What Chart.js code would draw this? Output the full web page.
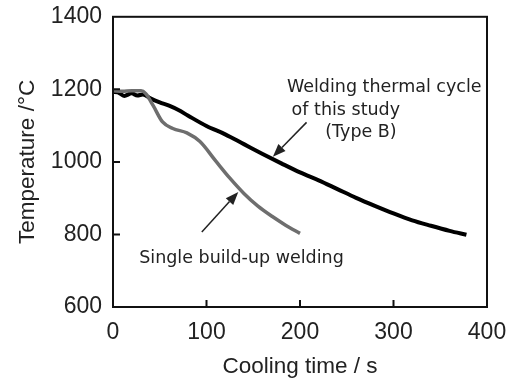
<!DOCTYPE html>
<html>
<head>
<meta charset="utf-8">
<script src="https://cdn.jsdelivr.net/npm/chart.js@4.4.0/dist/chart.umd.min.js"></script>
<style>
  html, body { margin: 0; padding: 0; background: #fff; }
  #wrap { width: 521px; height: 380px; }
</style>
</head>
<body>
<div id="wrap"><canvas id="chart" width="521" height="380"></canvas></div>
<script>
// Values (time in s, temperature in °C)
const typeBTime = [0, 5, 12, 20, 26, 32, 40, 50, 60, 70, 80, 100, 120, 140, 160, 180, 200, 220, 240, 260, 280, 300, 320, 340, 360, 378];
const typeBTemp = [1193, 1192, 1182, 1189, 1183, 1186, 1175, 1164, 1155, 1143, 1128, 1099, 1076, 1049, 1022, 996, 971, 949, 925, 901, 879, 858, 839, 824, 810, 799];

const singleTime = [0, 10, 20, 30, 35, 43, 53, 64, 79, 93, 110, 125, 140, 155, 170, 185, 200];
const singleTemp = [1196, 1195, 1196, 1196, 1188, 1155, 1110, 1092, 1080, 1056, 1002, 955, 913, 878, 850, 825, 803];

const xTicks = [0, 100, 200, 300, 400];
const yTicks = [600, 800, 1000, 1200, 1400];

// annotation texts (left edge x, middle y, in data units)
const labelTexts = ['Welding thermal cycle', 'of this study', '(Type B)', 'Single build-up welding'];
const labelX = [186, 191, 227, 28];
const labelY = [1205, 1142, 1081, 735];

// arrows: from (x0,y0) to tip (x1,y1), data units
const arrowFrom = [[207, 1109], [95, 807]];
const arrowTo = [[171, 1014], [134, 917]];

const FONT = '"Liberation Sans", Arial, sans-serif';
const NOTE_FONT = '"DejaVu Sans", Verdana, sans-serif';

const toPoints = (xs, ys) => xs.map((x, i) => ({ x, y: ys[i] }));

const frameAndTicks = {
    id: 'frameAndTicks',
    afterDatasetsDraw(chart) {
        const { ctx, chartArea: a, scales } = chart;
        ctx.save();
        ctx.strokeStyle = '#111';
        ctx.lineWidth = 2;
        ctx.strokeRect(a.left, a.top, a.right - a.left, a.bottom - a.top);
        // inward ticks
        ctx.beginPath();
        xTicks.slice(1, -1).forEach(v => {
            const px = scales.x.getPixelForValue(v);
            ctx.moveTo(px, a.bottom);
            ctx.lineTo(px, a.bottom - 7);
        });
        yTicks.slice(1, -1).forEach(v => {
            const py = scales.y.getPixelForValue(v);
            ctx.moveTo(a.left, py);
            ctx.lineTo(a.left + 7, py);
        });
        ctx.stroke();

        // annotation text
        ctx.fillStyle = '#222';
        ctx.font = '17.5px ' + NOTE_FONT;
        ctx.textBaseline = 'middle';
        ctx.textAlign = 'left';
        labelTexts.forEach((t, i) => {
            ctx.fillText(t, scales.x.getPixelForValue(labelX[i]), scales.y.getPixelForValue(labelY[i]));
        });

        // arrows
        ctx.strokeStyle = '#222';
        ctx.fillStyle = '#222';
        ctx.lineWidth = 1.5;
        arrowFrom.forEach((f, i) => {
            const x0 = scales.x.getPixelForValue(f[0]), y0 = scales.y.getPixelForValue(f[1]);
            const x1 = scales.x.getPixelForValue(arrowTo[i][0]), y1 = scales.y.getPixelForValue(arrowTo[i][1]);
            const ang = Math.atan2(y1 - y0, x1 - x0);
            const len = 13, wid = 5;
            const bx = x1 - len * Math.cos(ang), by = y1 - len * Math.sin(ang);
            ctx.beginPath();
            ctx.moveTo(x0, y0);
            ctx.lineTo(bx, by);
            ctx.stroke();
            ctx.beginPath();
            ctx.moveTo(x1, y1);
            ctx.lineTo(bx + wid * Math.sin(ang), by - wid * Math.cos(ang));
            ctx.lineTo(bx - wid * Math.sin(ang), by + wid * Math.cos(ang));
            ctx.closePath();
            ctx.fill();
        });
        ctx.restore();
    }
};

const tickFont = { family: FONT, size: 23 };
const titleFont = { family: FONT, size: 22.5 };

new Chart(document.getElementById('chart').getContext('2d'), {
    type: 'scatter',
    data: {
        datasets: [{
            label: 'Single build-up welding',
            data: toPoints(singleTime, singleTemp),
            showLine: true,
            borderColor: '#6e6e6e',
            borderWidth: 3.5,
            pointRadius: 0,
            cubicInterpolationMode: 'monotone'
        }, {
            label: 'Welding thermal cycle of this study (Type B)',
            data: toPoints(typeBTime, typeBTemp),
            showLine: true,
            borderColor: '#000',
            borderWidth: 4,
            pointRadius: 0,
            cubicInterpolationMode: 'monotone'
        }]
    },
    options: {
        responsive: false,
        animation: false,
        layout: { padding: { top: 16, right: 34, left: 0, bottom: 0 } },
        plugins: { legend: { display: false }, tooltip: { enabled: false } },
        scales: {
            x: {
                type: 'linear',
                min: 0, max: 400,
                afterBuildTicks: s => { s.ticks = xTicks.map(v => ({ value: v })); },
                grid: { display: false },
                border: { display: false },
                ticks: { color: '#222', font: tickFont, padding: 4, maxRotation: 0, callback: v => String(v) },
                title: { display: true, text: 'Cooling time / s', color: '#222', font: titleFont, padding: { top: 4, bottom: 0 } },
                afterFit: s => { s.height = 73; }
            },
            y: {
                min: 600, max: 1400,
                afterBuildTicks: s => { s.ticks = yTicks.map(v => ({ value: v })); },
                grid: { display: false },
                border: { display: false },
                ticks: { color: '#222', font: tickFont, padding: 3, callback: v => String(v) },
                title: { display: true, text: 'Temperature /°C', color: '#222', font: titleFont, padding: { top: 14, bottom: 4 } },
                afterFit: s => { s.width = 113; }
            }
        }
    },
    plugins: [frameAndTicks]
});
</script>
</body>
</html>
